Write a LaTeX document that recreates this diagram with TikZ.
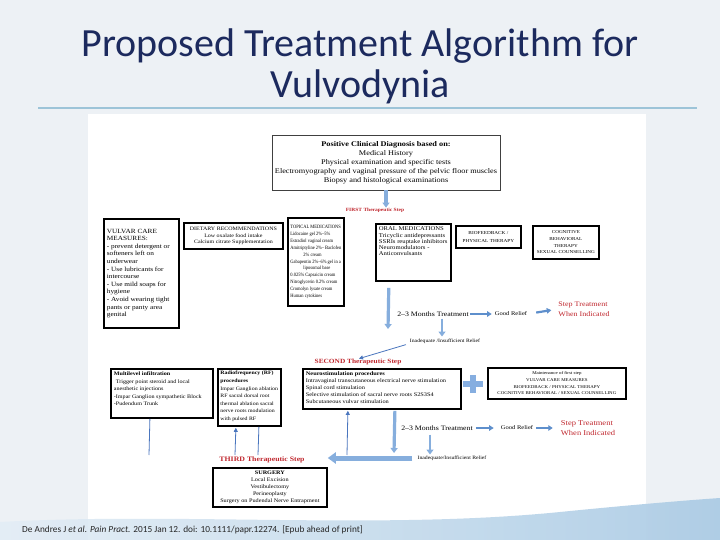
\documentclass[tikz,border=0pt]{standalone}
\usepackage{fontspec}
\setmainfont{Liberation Serif}
\newfontfamily\dg[FakeStretch=1.15]{Liberation Serif}
\newfontfamily\dgn[FakeStretch=0.9]{Liberation Serif}
\newfontfamily\calibri{Carlito}
\usetikzlibrary{arrows.meta}
\definecolor{bgc}{HTML}{EDF1F5}
\definecolor{navy}{HTML}{1C2A5E}
\definecolor{divc}{HTML}{9DC4D8}
\definecolor{stepred}{HTML}{C0262D}
\definecolor{arrblue}{HTML}{5E8FCC}
\definecolor{lightarr}{HTML}{86AEDD}
\definecolor{thinblue}{HTML}{4A76BE}
\definecolor{crossc}{HTML}{86AEE0}
\definecolor{wavea}{HTML}{E3EDF5}
\definecolor{waveb}{HTML}{A9CAE4}
\newcommand{\fsz}[2]{\fontsize{#1}{#2}\selectfont}
\begin{document}
\begin{tikzpicture}[x=1pt,y=-1pt,
  box/.style={draw=black, line width=1.8pt, fill=white, inner sep=3pt},
  lab/.style={inner sep=0pt, font=\dg},
  steplab/.style={inner sep=0pt, text=stepred},
  varrow/.style={draw=lightarr, line width=3.2pt, -{Triangle[width=7pt,length=5pt]}},
  harrow/.style={draw=arrblue, line width=2.2pt, -{Triangle[width=5.5pt,length=4.5pt]}},
  bigarrow/.style={draw=lightarr, line width=5pt, -{Triangle[width=11pt,length=8pt]}},
  thinarr/.style={draw=thinblue, line width=0.8pt, -{Triangle[width=4pt,length=4pt]}},
  thinln/.style={draw=thinblue, line width=0.8pt}]
\fill[bgc] (0,0) rectangle (720,540);
\useasboundingbox (0,0) rectangle (720,540);
% title
\node[anchor=base, inner sep=0pt, text=navy, font=\calibri\fsz{40}{44}] (title1) at (360,57) {Proposed Treatment Algorithm for};
\node[anchor=base, inner sep=0pt, text=navy, font=\calibri\fsz{40}{44}] (title2) at (360,98) {Vulvodynia};
\draw[divc, line width=1.6pt] (38,108) -- (697,108);
% white panel
\fill[white] (88,114) rectangle (646,540);
% bottom wave
\shade[left color=wavea, right color=waveb, opacity=0.9] (0,540) -- (0,522) .. controls (180,512) and (380,530) .. (560,512) .. controls (630,505) and (690,500) .. (720,498) -- (720,540) -- cycle;

% diagnosis
\node[box, draw=black!75, line width=0.9pt, minimum width=228pt, minimum height=55pt, align=center, inner sep=2pt, font=\dg\fsz{7.2}{8.9}] (diag) at (386,162.5)
 {\textbf{Positive Clinical Diagnosis based on:}\\Medical History\\Physical examination and specific tests\\Electromyography and vaginal pressure of the pelvic floor muscles\\Biopsy and histological examinations};
\node[steplab, font=\dg\bfseries\fsz{4.8}{6}] (first) at (375,210) {FIRST Therapeutic Step};
\draw[varrow] (diag.south) -- (diag.south |- first.north);

% first step boxes
\node[box, anchor=north west, font=\dg\fsz{6.35}{7.6}] (vulvar) at (103,218)
 {\parbox[c][103pt][c]{69pt}{\raggedright VULVAR CARE\\MEASURES:\\- prevent detergent or\\softeners left on\\underwear\\- Use lubricants for\\intercourse\\- Use mild soaps for\\hygiene\\- Avoid wearing tight\\pants or panty area\\genital}};
\node[box, anchor=north west, inner sep=2pt, minimum width=99pt, minimum height=26pt, align=center, font=\dg\fsz{5.2}{6.8}] (diet) at (183,222)
 {DIETARY RECOMMENDATIONS\\Low oxalate food intake\\Calcium citrate Supplementation};
\node[box, anchor=north west, inner sep=2.5pt, font=\dgn\fsz{5.0}{6.9}] (topical) at (287,217)
 {\parbox[c][83pt][c]{51pt}{\raggedright TOPICAL MEDICATIONS\\Lidocaine gel 2\%–5\%\\Estradiol vaginal cream\\Amitriptyline 2\%– Baclofen\\\hspace*{13pt}2\% cream\\Gabapentin 2\%–6\% gel in a\\\hspace*{13pt}liposomal base\\0.025\% Capsaicin cream\\Nitroglycerin 0.2\% cream\\Cromolyn lysate cream\\Human cytokines}};
\node[box, anchor=north west, font=\dg\fsz{5.8}{6.3}] (oral) at (375,223)
 {\parbox[c][51pt][t]{69pt}{\raggedright ORAL MEDICATIONS\\Tricyclic antidepressants\\SSRIs reuptake inhibitors\\Neuromodulators -\\Anticonvulsants}};
\node[box, anchor=north west, inner sep=1pt, minimum width=65pt, minimum height=22pt, align=center, font=\dg\fsz{4.6}{7.7}] (bio) at (455,225)
 {BIOFEEDBACK /\\PHYSICAL THERAPY};
\node[box, anchor=north west, inner sep=1pt, minimum width=66pt, minimum height=33pt, align=center, font=\dg\fsz{4.5}{6.7}] (cog) at (532,225)
 {COGNITIVE\\BEHAVIORAL\\THERAPY\\SEXUAL COUNSELLING};

% first step outcome
\node[lab, font=\dg\fsz{6.8}{8}] (m1) at (433,314) {2–3 Months Treatment};
\node[lab, font=\dg\fsz{5.7}{7}] (g1) at (511,314) {Good Relief};
\node[lab, text=stepred, align=left, font=\dg\fsz{7.0}{9.5}] (s1) at (584,309) {Step Treatment\\When Indicated};
\node[lab, font=\dg\fsz{5.0}{6}] (i1) at (445,341) {Inadequate /Insufficient Relief};
\coordinate (v1e) at (388,329);
\draw[varrow, shorten <=6pt] ([xshift=-24.5pt]oral.south) -- (v1e);
\draw[harrow, shorten <=1pt, shorten >=3pt] (m1.east) -- (g1.west);
\draw[harrow, shorten <=9pt, shorten >=7pt] (g1.east) -- (s1.west);
\draw[varrow, line width=2.6pt, shorten <=2pt, shorten >=2pt] ([xshift=9pt]m1.south) -- ([xshift=-3pt]i1.north);

% second step
\node[steplab, font=\dg\bfseries\fsz{6.4}{8}] (second) at (358,362) {SECOND Therapeutic Step};
\draw[thinarr, shorten <=4pt, shorten >=1pt] (i1.south west) -- (second.north);

\node[box, anchor=north west, font=\dg\fsz{5.3}{7.5}] (multi) at (110,368)
 {\parbox[c][43pt][t]{96pt}{\raggedright\textbf{Multilevel infiltration}\\\hspace*{2pt}Trigger point steroid and local\\anesthetic injections\\-Impar Ganglion sympathetic Block\\-Pudendum Trunk}};
\node[box, anchor=north west, inner sep=2.5pt, font=\dg\fsz{5.1}{7.6}] (rf) at (217,368)
 {\parbox[c][52pt][t]{58pt}{\raggedright\textbf{Radiofrequency (RF)}\\\textbf{procedures}\\Impar Ganglion ablation\\RF sacral dorsal root\\thermal ablation sacral\\nerve roots modulation\\with pulsed RF}};
\node[box, anchor=north west, font=\dg\fsz{5.5}{7}] (neuro) at (302,368)
 {\parbox[c][34pt][t]{152pt}{\raggedright\textbf{Neurostimulation procedures}\\Intravaginal transcutaneous electrical nerve stimulation\\Spinal cord stimulation\\Selective stimulation of sacral nerve roots S2S3S4\\Subcutaneous vulvar stimulation}};
\fill[crossc] (462.5,381) rectangle (482.5,387);
\fill[crossc] (469.5,375) rectangle (475.5,393);
\node[box, anchor=north west, inner sep=1pt, minimum width=138pt, minimum height=31pt, align=center, font=\dg\fsz{4.3}{6.7}] (maint) at (487,367)
 {Maintenance of first step\\VULVAR CARE MEASURES\\BIOFEEDBACK / PHYSICAL THERAPY\\COGNITIVE BEHAVIORAL / SEXUAL COUNSELLING};

% second step connectors
\coordinate (b1) at (149,455);
\coordinate (b2) at (235,455);
\coordinate (b3) at (258,455);
\coordinate (b4) at (347,455);
\draw[thinln] ([xshift=-12pt]multi.south) -- (b1);
\draw[thinarr, shorten >=1pt] (b2) -- ([xshift=-13.5pt]rf.south);
\draw[thinln] ([xshift=9.5pt]rf.south) -- (b3);
\draw[thinarr, shorten >=1pt] (b4) -- ([xshift=-34pt]neuro.south);

% second step outcome
\node[lab, font=\dg\fsz{6.8}{8}] (m2) at (437,428) {2–3 Months Treatment};
\node[lab, font=\dg\fsz{5.7}{7}] (g2) at (517,428) {Good Relief};
\node[lab, text=stepred, align=left, font=\dg\fsz{7.4}{10}] (s2) at (588,428) {Step Treatment\\When Indicated};
\node[lab, font=\dg\fsz{5.0}{6}] (i2) at (452,458) {Inadequate/Insufficient Relief};
\coordinate (v2e) at (394,453);
\draw[varrow, shorten <=1pt] ([xshift=13pt]neuro.south) -- (v2e);
\draw[harrow, shorten <=3pt, shorten >=7pt] (m2.east) -- (g2.west);
\draw[harrow, shorten <=3pt, shorten >=8pt] (g2.east) -- (s2.west);
\draw[varrow, line width=2.6pt, shorten <=4pt, shorten >=1pt] ([xshift=-7pt]m2.south) -- ([xshift=-22pt]i2.north);

% third step
\node[steplab, font=\dg\bfseries\fsz{6.8}{8}] (third) at (262,460) {THIRD Therapeutic Step};
\draw[bigarrow, shorten <=5pt, shorten >=23pt] (i2.west) -- (i2.west -| third.east);
\node[box, anchor=north west, inner sep=1pt, minimum width=114pt, minimum height=39pt, align=center, font=\dg\fsz{5.4}{7}] (surg) at (212,467)
 {\textbf{SURGERY}\\Local Excision\\Vestibulectomy\\Perineoplasty\\Surgery on Pudendal Nerve Entrapment};

% citation
\node[anchor=base west, inner sep=0pt, text=black!85, font=\calibri\fsz{9.3}{11}] (cite) at (22,532)
 {De Andres J \textit{et al.} \textit{Pain Pract.} 2015 Jan 12. doi: 10.1111/papr.12274. [Epub ahead of print]};
\end{tikzpicture}
\end{document}
